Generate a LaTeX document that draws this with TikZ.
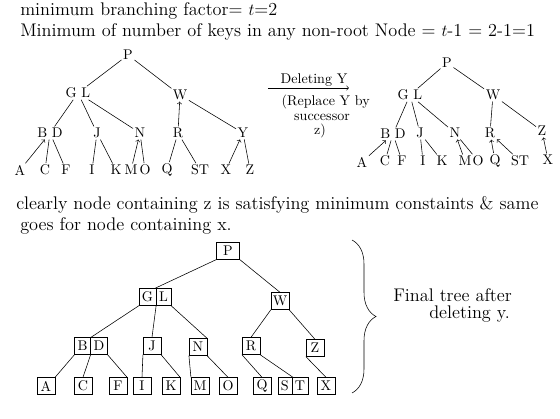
\documentclass[tikz,border=0pt]{standalone}
\usetikzlibrary{positioning,shapes.multipart,decorations.pathreplacing}

\begin{document}
\begin{tikzpicture}[x=0.025cm, y=-0.025cm,
        key/.style={inner sep=1pt},
        box/.style={draw, minimum width=0.44cm, minimum height=0.42cm, inner sep=1pt},
        pair/.style={draw, rectangle split, rectangle split horizontal,
            rectangle split parts=2, inner sep=2pt, minimum height=0.42cm},
        note/.style={font=\fontsize{13}{15}\selectfont, anchor=west, inner sep=0pt},
        arrow/.style={->}
    ]
        \useasboundingbox (0,0) rectangle (560,419);

        \node[note] (l1) at (20,11) {minimum branching factor= $t$=2};
        \node[note] (l2) at (20,32) {Minimum of number of keys in any non-root Node = $t$-1 = 2-1=1};

        % tree before deleting
        \node[key] (p) at (128,55) {P};
        \node[key] (gl) at (78,93) {G L};
        \node[key] (w) at (180,95) {W};
        \node[key] (bd) at (50,133) {B D};
        \node[key] (j) at (97,133) {J};
        \node[key] (n) at (140,133) {N};
        \node[key] (r) at (178,133) {R};
        \node[key] (y) at (243,133) {Y};
        \node[key] (a) at (20,170) {A};
        \node[key] (c) at (45,170) {C};
        \node[key] (f) at (66,170) {F};
        \node[key] (i) at (92,170) {I};
        \node[key] (k) at (116,170) {K};
        \node[key] (m) at (131,170) {M};
        \node[key] (o) at (145,170) {O};
        \node[key] (q) at (167,170) {Q};
        \node[key] (st) at (200,170) {ST};
        \node[key] (x) at (226,170) {X};
        \node[key] (z) at (250,170) {Z};

        \draw (p) -- (gl);
        \draw (p) -- (w);
        \draw (gl) -- (bd);
        \draw (gl) -- (j);
        \draw (gl) -- (n);
        \draw[arrow] (r) -- (w);
        \draw (w) -- (y);
        \draw[arrow] (a) -- (bd);
        \draw (bd) -- (c);
        \draw (bd) -- (f);
        \draw (j) -- (i);
        \draw (j) -- (k);
        \draw[arrow] (m) -- (n);
        \draw (n) -- (o);
        \draw (r) -- (q);
        \draw (r) -- (st);
        \draw[arrow] (x) -- (y);
        \draw (y) -- (z);

        % step between the trees
        \node[key] (del) at (314,80) {Deleting Y};
        \draw[arrow] ([xshift=-8pt]del.south west) -- (del.south east);
        \node[key, anchor=west] (rep) at (280,102) {(Replace Y by};
        \node[key] (suc) at (322,117) {successor};
        \node[key] (zz) at (320,131) {z)};

        % tree after deleting
        \node[key] (p1) at (447,63) {P};
        \node[key] (gl1) at (410,95) {G L};
        \node[key] (w1) at (493,95) {W};
        \node[key] (bd1) at (393,134) {B D};
        \node[key] (j1) at (420,133) {J};
        \node[key] (n1) at (455,133) {N};
        \node[key] (r1) at (490,133) {R};
        \node[key] (z1) at (542,131) {Z};
        \node[key] (a1) at (362,162) {A};
        \node[key] (c1) at (385,161) {C};
        \node[key] (f1) at (402,161) {F};
        \node[key] (i1) at (423,161) {I};
        \node[key] (k1) at (442,161) {K};
        \node[key] (m1) at (465,161) {M};
        \node[key] (o1) at (478,161) {O};
        \node[key] (q1) at (495,161) {Q};
        \node[key] (st1) at (520,161) {ST};
        \node[key] (x1) at (548,160) {X};

        \draw (p1) -- (gl1);
        \draw (p1) -- (w1);
        \draw (gl1) -- (bd1);
        \draw (gl1) -- (j1);
        \draw (gl1) -- (n1);
        \draw (w1) -- (r1);
        \draw (w1) -- (z1);
        \draw[arrow] (a1) -- (bd1);
        \draw (bd1) -- (c1);
        \draw (bd1) -- (f1);
        \draw (j1) -- (i1);
        \draw (j1) -- (k1);
        \draw[arrow] (m1) -- (n1);
        \draw (n1) -- (o1);
        \draw[arrow] (q1) -- (r1);
        \draw[arrow] (st1) -- (r1);
        \draw[arrow] (x1) -- (z1);

        \node[note] (l3) at (16,205) {clearly node containing z is satisfying minimum constaints \& same};
        \node[note] (l4) at (20,226) {goes for node containing x.};

        % final tree
        \node[box, minimum width=0.58cm] (p2) at (228,251) {P};
        \node[pair] (gl2) at (155,297) {G\nodepart{two}L};
        \node[box] (w2) at (280,301) {W};
        \node[pair] (bd2) at (91,346) {B\nodepart{two}D};
        \node[box] (j2) at (152,346) {J};
        \node[box] (n2) at (198,347) {N};
        \node[box] (r2) at (251,346) {R};
        \node[box] (z2) at (315,348) {Z};
        \node[box] (a2) at (46,386) {A};
        \node[box] (c2) at (83,386) {C};
        \node[box] (f2) at (118,386) {F};
        \node[box] (i2) at (142,386) {I};
        \node[box] (k2) at (171,386) {K};
        \node[box] (m2) at (200,386) {M};
        \node[box] (o2) at (228,386) {O};
        \node[box] (q2) at (262,386) {Q};
        \node[pair] (st2) at (293,386) {S\nodepart{two}T};
        \node[box] (x2) at (326,386) {X};

        \draw (p2.south west) -- (gl2.north);
        \draw (p2.south east) -- (w2.north);
        \draw (gl2.south west) -- (bd2.north);
        \draw (gl2.one split south) -- (j2.north);
        \draw (gl2.south east) -- (n2.north east);
        \draw (w2.south west) -- (r2.north);
        \draw (w2.south east) -- (z2.north);
        \draw (bd2.south west) -- (a2.north east);
        \draw (bd2.one split south) -- (c2.north);
        \draw (bd2.south east) -- (f2.north east);
        \draw (j2.south west) -- (i2.north);
        \draw (j2.south east) -- (k2.north east);
        \draw (n2.south west) -- (m2.north west);
        \draw (n2.south east) -- (o2.north);
        \draw (r2.south west) -- (q2.north);
        \draw (r2.south east) -- (st2.north);
        \draw (z2.south west) -- (x2.north);

        \draw[decorate, decoration={brace, amplitude=0.6cm}] (352,240) -- (352,393);
        \node[note] (fin) at (393,295) {Final tree after};
        \node[note, below right=0.1cm and 0.9cm of fin.south west, anchor=north west] (dely) {deleting y.};
    \end{tikzpicture}
\end{document}
